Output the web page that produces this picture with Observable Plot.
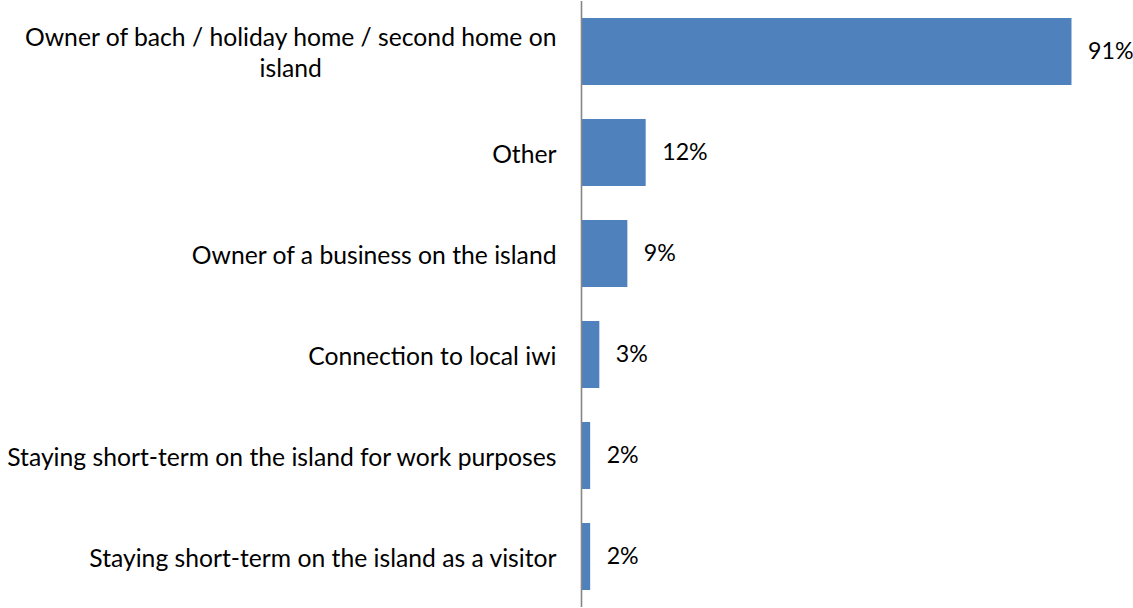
<!DOCTYPE html>
<html><head><meta charset="utf-8">
<script src="https://cdn.jsdelivr.net/npm/d3@7"></script>
<script src="https://cdn.jsdelivr.net/npm/@observablehq/plot@0.6"></script>
<style>body{margin:0;background:#fff;} svg{display:block;}</style>
</head><body><div id="chart"></div>
<script>
const categories = [
  "Owner of bach / holiday home / second home on island",
  "Other",
  "Owner of a business on the island",
  "Connection to local iwi",
  "Staying short-term on the island for work purposes",
  "Staying short-term on the island as a visitor"
];
const axisLabels = [
  "Owner of bach / holiday home / second home on\nisland",
  "Other",
  "Owner of a business on the island",
  "Connection to local iwi",
  "Staying short-term on the island for work purposes",
  "Staying short-term on the island as a visitor"
];
const values = [91, 12, 8.6, 3.4, 1.7, 1.7];
const valueLabels = ["91%", "12%", "9%", "3%", "2%", "2%"];

const data = categories.map((c, i) => ({category: c, value: values[i], label: valueLabels[i]}));
const labelOf = new Map(categories.map((c, i) => [c, axisLabels[i]]));

const FONT = "Lato";
const FS = 24.7;
const VFS = 23.2;

const chart = Plot.plot({
  width: 1133, height: 608,
  marginLeft: 581, marginRight: 13, marginTop: 1, marginBottom: 1,
  style: {fontFamily: FONT, fontSize: FS + "px", color: "#000", background: "#fff"},
  x: {domain: [0, 100], axis: null},
  y: {domain: categories, paddingInner: 0.34, paddingOuter: 0.17},
  marks: [
    Plot.barX(data, {x: "value", y: "category", fill: "#4F81BD"}),
    Plot.ruleX([0], {stroke: "#868686", strokeWidth: 1.6}),
    Plot.axisY({tickSize: 0, tickPadding: 25, label: null, lineHeight: 1.25, fontSize: FS, fill: "#000", tickFormat: d => labelOf.get(d)}),
    Plot.text(data, {x: "value", y: "category", text: "label", textAnchor: "start", dx: 16, fontSize: VFS, fill: "#000"})
  ]
});
document.getElementById("chart").appendChild(chart);

// center multi-line tick labels within their block (as in the original)
chart.querySelectorAll("text").forEach(t => {
  const spans = t.querySelectorAll("tspan");
  if (spans.length > 1) {
    let maxW = 0;
    spans.forEach(s => { maxW = Math.max(maxW, s.getComputedTextLength()); });
    t.setAttribute("text-anchor", "middle");
    spans.forEach(s => s.setAttribute("x", -maxW / 2));
  }
});
</script>
</body></html>
